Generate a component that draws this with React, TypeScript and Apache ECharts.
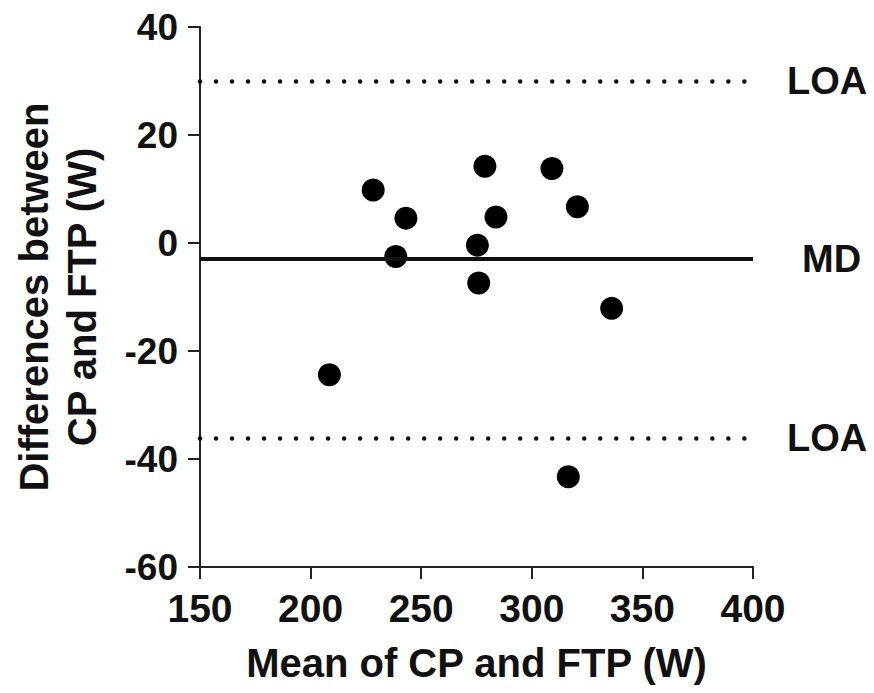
import React, { useEffect, useRef } from "react";
import * as echarts from "echarts";

const meanValues = [228.3, 243.1, 238.5, 278.8, 283.8, 275.4, 276.0, 309.1, 320.6, 336.1, 208.5, 316.5];
const diffValues = [9.8, 4.6, -2.5, 14.2, 4.8, -0.4, -7.4, 13.8, 6.7, -12.1, -24.4, -43.3];
const meanDifference = -2.9;
const upperLOA = 30.0;
const lowerLOA = -36.1;
const xTicks = [150, 200, 250, 300, 350, 400];
const yTicks = [-60, -40, -20, 0, 20, 40];

const FONT = "'Liberation Sans', Arial, Helvetica, sans-serif";
const INK = "#111111";

export default function App() {
  const ref = useRef<HTMLDivElement>(null);
  useEffect(() => {
    if (!ref.current) return;
    const chart = echarts.init(ref.current, undefined, { renderer: "svg" });
    const points = meanValues.map((x, i) => [x, diffValues[i]]);
    const refLine = (y: number, label: string, solid: boolean, dist: number) => ({
      yAxis: y,
      label: { formatter: label, distance: dist },
      lineStyle: solid
        ? { type: "solid", width: 4, color: INK, cap: "butt" }
        : { type: [0.01, 16], width: 4.5, color: INK, cap: "round" },
    });
    chart.setOption({
      animation: false,
      backgroundColor: "#ffffff",
      grid: { left: 200, right: 121, top: 27, bottom: 126 },
      xAxis: {
        type: "value",
        min: xTicks[0],
        max: xTicks[xTicks.length - 1],
        interval: 50,
        name: "Mean of CP and FTP (W)",
        nameLocation: "middle",
        nameGap: 76,
        nameTextStyle: { fontFamily: FONT, fontWeight: "bold", fontSize: 40, color: INK },
        axisLine: { onZero: false, lineStyle: { color: "#222", width: 2 } },
        axisTick: { length: 12, lineStyle: { color: "#222", width: 2 } },
        axisLabel: { fontFamily: FONT, fontWeight: "bold", fontSize: 39, color: INK, margin: 22 },
        splitLine: { show: false },
      },
      yAxis: {
        type: "value",
        min: yTicks[0],
        max: yTicks[yTicks.length - 1],
        interval: 20,
        name: "Differences between\nCP and FTP (W)",
        nameLocation: "middle",
        nameGap: 94,
        nameRotate: 90,
        nameTextStyle: { fontFamily: FONT, fontWeight: "bold", fontSize: 40, color: INK, lineHeight: 48 },
        axisLine: { onZero: false, lineStyle: { color: "#222", width: 2 } },
        axisTick: { length: 12, lineStyle: { color: "#222", width: 2 } },
        axisLabel: { fontFamily: FONT, fontWeight: "bold", fontSize: 37, color: INK, margin: 22 },
        splitLine: { show: false },
      },
      series: [
        {
          type: "line",
          data: [],
          z: 1,
          markLine: {
            silent: true,
            symbol: ["none", "none"],
            label: {
              show: true,
              position: "end",
              fontFamily: FONT,
              fontWeight: "bold",
              fontSize: 38,
              color: INK,
            },
            data: [
              refLine(upperLOA, "LOA", false, 34),
              refLine(meanDifference, "MD", true, 49),
              refLine(lowerLOA, "LOA", false, 34),
            ],
          },
        },
        {
          type: "scatter",
          z: 3,
          data: points,
          symbol: "circle",
          symbolSize: 23,
          itemStyle: { color: "#000000", opacity: 1 },
        },
      ],
    });
    return () => chart.dispose();
  }, []);
  return (
    <div
      ref={ref}
      style={{ position: "fixed", left: 0, top: 0, width: 874, height: 693, background: "#fff" }}
    />
  );
}
